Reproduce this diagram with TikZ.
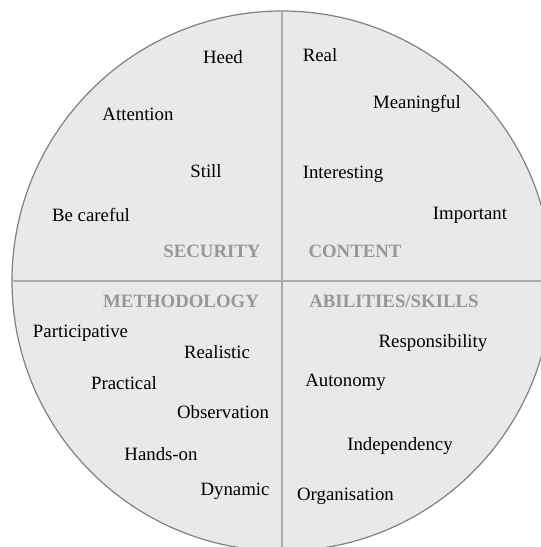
\documentclass[tikz,border=0pt]{standalone}
\usepackage{fontspec}
\setmainfont{Liberation Serif}
\usepackage{tikz}
\usetikzlibrary{positioning}

\definecolor{wheelfill}{HTML}{E9E9E9}
\definecolor{wheelrim}{HTML}{808080}
\definecolor{wheelsplit}{HTML}{ABABAB}
\definecolor{headgray}{HTML}{979797}

\begin{document}
\begin{tikzpicture}[x=1pt,y=-1pt,
    word/.style={inner sep=0pt,font=\fontsize{18.8}{22}\selectfont},
    head/.style={word,text=headgray,font=\fontsize{18.8}{22}\selectfont\bfseries}]
    \useasboundingbox (0,0) rectangle (541,547);
    \clip (0,0) rectangle (541,547);
    \tikzstyle{split}=[draw=wheelsplit,line width=2pt]

    \fill [wheelfill,draw=wheelrim,line width=1.2pt] (282,281) circle (270);
    \draw [split] (12,281) -- (552,281);
    \draw [split] (282,11) -- (282,551);

    % security
    \node [head] (security) at (212,251) {SECURITY};
    \node [word] (heed) at (223,57) {Heed};
    \node [word] (attention) at (138,114) {Attention};
    \node [word] (still) at (206,171) {Still};
    \node [word] (careful) at (91,215) {Be careful};

    % content
    \node [head] (content) at (355,251) {CONTENT};
    \node [word] (real) at (320,55) {Real};
    \node [word] (meaningful) at (417,104) {Meaningful};
    \node [word] (interesting) at (343,174) {Interesting};
    \node [word] (important) at (470,215) {Important};

    % methodology
    \node [head] (methodology) at (181,301) {METHODOLOGY};
    \node [word] (participative) at (80.5,333) {Participative};
    \node [word] (realistic) at (217,352) {Realistic};
    \node [word] (practical) at (124,383) {Practical};
    \node [word] (observation) at (223,412) {Observation};
    \node [word] (handson) at (161,454) {Hands-on};
    \node [word] (dynamic) at (235,491) {Dynamic};

    % abilities
    \node [head] (abilities) at (394,301) {ABILITIES/SKILLS};
    \node [word] (responsibility) at (433,343) {Responsibility};
    \node [word] (autonomy) at (345.5,382) {Autonomy};
    \node [word] (independency) at (400,446) {Independency};
    \node [word] (organisation) at (345.5,496) {Organisation};
\end{tikzpicture}
\end{document}
